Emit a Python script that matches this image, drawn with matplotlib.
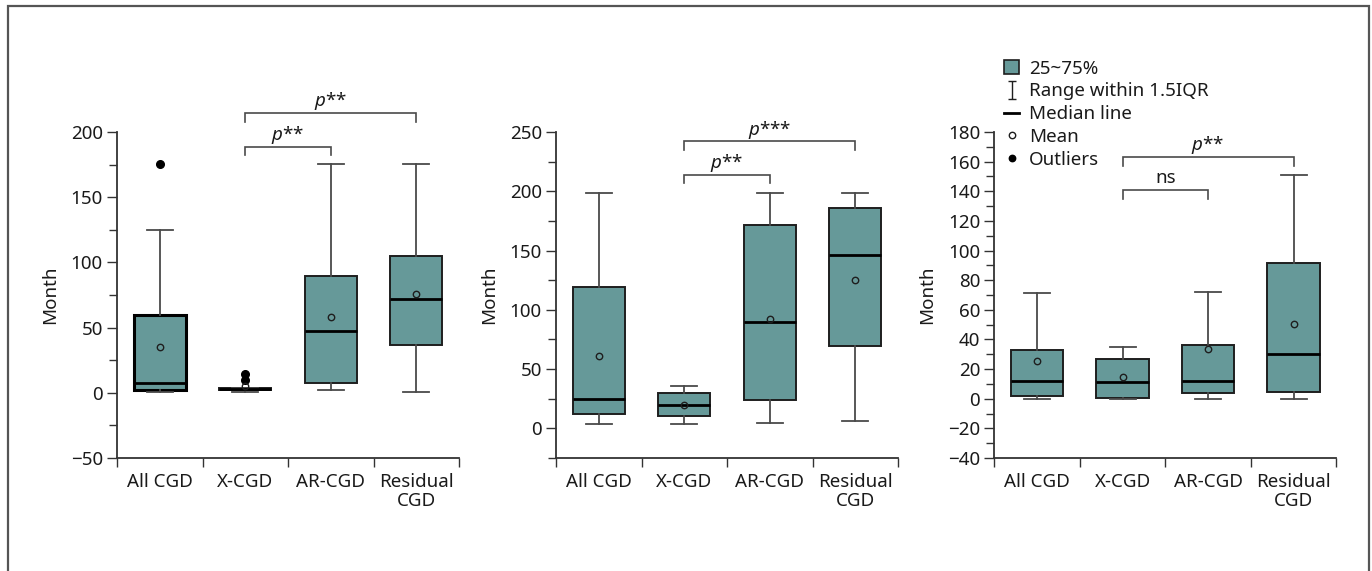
import matplotlib
matplotlib.use("Agg")
import matplotlib.pyplot as plt
from matplotlib.patches import Patch
from matplotlib.lines import Line2D
from matplotlib.path import Path
from matplotlib.ticker import MultipleLocator, FixedLocator, NullFormatter, FixedFormatter

plt.rcParams['font.family'] = ['Noto Sans', 'DejaVu Sans']
plt.rcParams['mathtext.fontset'] = 'custom'
plt.rcParams['mathtext.it'] = 'Noto Sans:italic'
plt.rcParams['mathtext.rm'] = 'Noto Sans'

categories = ['All CGD', 'X-CGD', 'AR-CGD', 'Residual\nCGD']

# Panel 1
p1_q1 = [2.5, 2.5, 7.7, 36.3]
p1_med = [7.7, 3.0, 47.5, 72.1]
p1_q3 = [60.0, 3.5, 89.4, 104.8]
p1_lo = [0.8, 0.8, 2.0, 0.8]
p1_hi = [124.5, 3.5, 175.6, 175.6]
p1_mean = [35.0, 5.0, 58.5, 75.4]
p1_fliers = [[175.6], [9.7, 14.8], [], []]
p1_sig = [(1, 2, 188.3, 182.0, r'$p$**'), (1, 3, 214.4, 207.5, r'$p$**')]

# Panel 2
p2_q1 = [11.8, 10.1, 23.9, 69.4]
p2_med = [24.4, 19.4, 89.9, 146.0]
p2_q3 = [119.4, 30.0, 171.6, 186.0]
p2_lo = [3.7, 3.7, 4.8, 6.2]
p2_hi = [198.3, 36.0, 198.3, 198.3]
p2_mean = [61.0, 19.4, 92.1, 125.3]
p2_fliers = [[], [], [], []]
p2_sig = [(1, 2, 214.0, 207.0, r'$p$**'), (1, 3, 242.0, 235.0, r'$p$***')]

# Panel 3
p3_q1 = [2.0, 0.7, 3.8, 4.5]
p3_med = [11.7, 11.2, 12.1, 29.9]
p3_q3 = [32.6, 26.5, 36.2, 91.6]
p3_lo = [-0.5, 0.0, 0.0, 0.0]
p3_hi = [71.3, 34.9, 71.7, 150.7]
p3_mean = [25.4, 14.4, 33.3, 50.4]
p3_fliers = [[], [], [], []]
p3_sig = [(1, 2, 140.6, 134.7, 'ns'), (1, 3, 163.0, 157.0, r'$p$**')]

panels = [
    dict(q1=p1_q1, med=p1_med, q3=p1_q3, lo=p1_lo, hi=p1_hi, mean=p1_mean, fl=p1_fliers,
         sig=p1_sig, ylim=(-50, 200), major=50, minor=25),
    dict(q1=p2_q1, med=p2_med, q3=p2_q3, lo=p2_lo, hi=p2_hi, mean=p2_mean, fl=p2_fliers,
         sig=p2_sig, ylim=(-25, 250), major=50, minor=25),
    dict(q1=p3_q1, med=p3_med, q3=p3_q3, lo=p3_lo, hi=p3_hi, mean=p3_mean, fl=p3_fliers,
         sig=p3_sig, ylim=(-40, 180), major=20, minor=10),
]

TEAL = '#669999'
DARK = '#1e1e1e'
GRAY = '#4a4a4a'
FS = 13.5

W, H = 1372, 571
fig = plt.figure(figsize=(W / 100, H / 100), dpi=100)

lefts = [117, 556, 994.3]
ax_w = 342
ax_top, ax_bot = 132, 458

for k, (pan, lx) in enumerate(zip(panels, lefts)):
    ax = fig.add_axes([lx / W, 1 - ax_bot / H, ax_w / W, (ax_bot - ax_top) / H])
    stats = []
    for i in range(4):
        stats.append(dict(q1=pan['q1'][i], med=pan['med'][i], q3=pan['q3'][i],
                          whislo=pan['lo'][i], whishi=pan['hi'][i],
                          mean=pan['mean'][i], fliers=pan['fl'][i], label=categories[i]))
    bp = ax.bxp(stats, positions=range(4), widths=0.61, patch_artist=True,
                showmeans=True, showfliers=True,
                boxprops=dict(facecolor=TEAL, edgecolor=DARK, linewidth=1.4),
                medianprops=dict(color='black', linewidth=2.0),
                whiskerprops=dict(color=GRAY, linewidth=1.3),
                capprops=dict(color=GRAY, linewidth=1.3),
                capwidths=0.305,
                meanprops=dict(marker='o', markerfacecolor='none', markeredgecolor=DARK,
                               markersize=4.6, markeredgewidth=1.0),
                flierprops=dict(marker='o', markerfacecolor='black', markeredgecolor='black',
                                markersize=5.5))
    if k == 0:
        bp['boxes'][0].set_linewidth(2.2)
        bp['boxes'][0].set_edgecolor('black')
    ax.set_xlim(-0.5, 3.5)
    ax.set_ylim(*pan['ylim'])
    for s in ['top', 'right']:
        ax.spines[s].set_visible(False)
    for s in ['left', 'bottom']:
        ax.spines[s].set_color('#333333')
        ax.spines[s].set_linewidth(1.3)
    ax.yaxis.set_major_locator(MultipleLocator(pan['major']))
    ax.yaxis.set_minor_locator(MultipleLocator(pan['minor']))
    ax.yaxis.set_major_formatter(matplotlib.ticker.FuncFormatter(
        lambda v, p: ('\u2212%d' % -v) if v < 0 else '%d' % v))
    ax.tick_params(axis='y', which='major', length=7.2, width=1.0, color='#333333',
                   labelsize=FS, labelcolor='#1a1a1a', pad=3)
    ax.tick_params(axis='y', which='minor', length=5.5, width=1.0, color='#333333')
    ax.xaxis.set_major_locator(FixedLocator([-0.5, 0.5, 1.5, 2.5, 3.5]))
    ax.xaxis.set_major_formatter(NullFormatter())
    ax.xaxis.set_minor_locator(FixedLocator([0, 1, 2, 3]))
    ax.xaxis.set_minor_formatter(FixedFormatter(categories))
    ax.tick_params(axis='x', which='major', length=6.5, width=1.0, color='#333333')
    ax.tick_params(axis='x', which='minor', length=0, labelsize=FS, labelcolor='#1a1a1a', pad=11)
    for lab in ax.get_xticklabels(minor=True):
        lab.set_horizontalalignment('center')
        lab.set_linespacing(1.05)
    ax.set_ylabel('Month', fontsize=FS, color='#1a1a1a')
    ax.yaxis.set_label_coords(-0.17, 0.5)
    for (i, j, ytop, yend, txt) in pan['sig']:
        ax.plot([i, i, j, j], [yend, ytop, ytop, yend], color=GRAY, linewidth=1.2,
                clip_on=False, solid_joinstyle='miter')
        ax.annotate(txt, xy=((i + j) / 2, ytop), xytext=(0, 5), textcoords='offset points',
                    ha='center', va='baseline', fontsize=FS, color='#1a1a1a',
                    annotation_clip=False)

# legend
errbar_path = Path([(-0.4, -1), (0.4, -1), (0, -1), (0, 1), (-0.4, 1), (0.4, 1)],
                   [Path.MOVETO, Path.LINETO, Path.MOVETO, Path.LINETO, Path.MOVETO, Path.LINETO])
handles = [
    Patch(facecolor=TEAL, edgecolor=DARK, linewidth=1.2),
    Line2D([], [], linestyle='none', marker=errbar_path, markersize=13,
           markerfacecolor='none', markeredgecolor=DARK, markeredgewidth=1.0),
    Line2D([], [], color='black', linewidth=2.0),
    Line2D([], [], linestyle='none', marker='o', markersize=4.6, markerfacecolor='none',
           markeredgecolor=DARK, markeredgewidth=1.0),
    Line2D([], [], linestyle='none', marker='o', markersize=4.6, markerfacecolor='black',
           markeredgecolor='black'),
]
labels = ['25~75%', 'Range within 1.5IQR', 'Median line', 'Mean', 'Outliers']
fig.legend(handles, labels, loc='upper left', bbox_to_anchor=(1004 / W, 1 - 59.5 / H),
           frameon=False, fontsize=FS, borderpad=0, borderaxespad=0,
           handlelength=0.8, handleheight=0.75, handletextpad=0.55, labelspacing=0.26,
           labelcolor='#1a1a1a')

# outer border (left, top, right)
bx0, bx1, by1 = 7.5 / W, 1369 / W, 1 - 5.5 / H
fig.add_artist(Line2D([bx0, bx0, bx1, bx1], [0, by1, by1, 0], transform=fig.transFigure,
                      color='#555555', linewidth=1.6, solid_joinstyle='miter'))

fig.savefig('out.png', dpi=100)
